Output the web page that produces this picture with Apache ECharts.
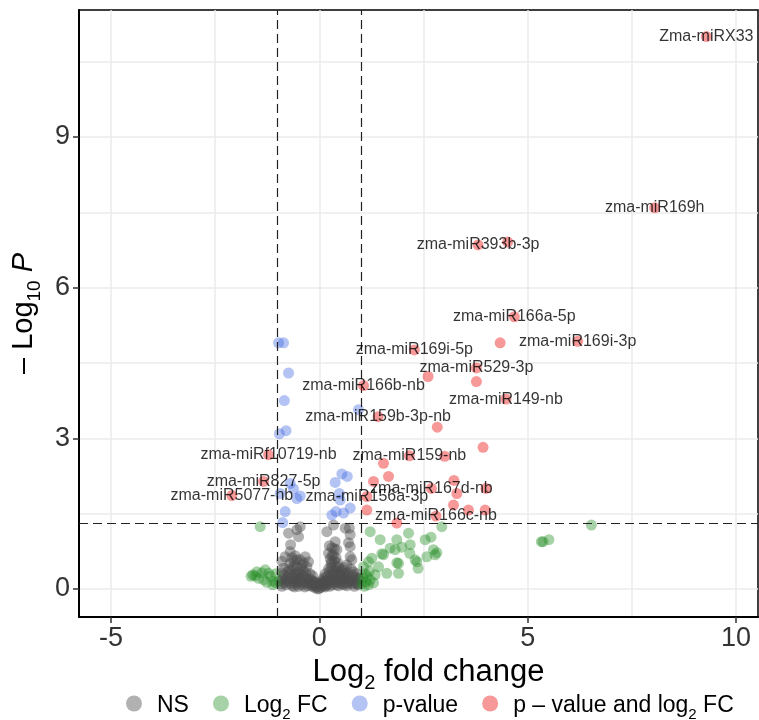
<!DOCTYPE html>
<html>
<head>
<meta charset="utf-8">
<script src="https://cdn.jsdelivr.net/npm/echarts@6/dist/echarts.min.js"></script>
<style>
	html, body { margin: 0; padding: 0; background: #fff; }
	#chart { width: 759px; height: 720px; }
</style>
</head>
<body>
<div id="chart"></div>
<script>
// not significant
var nsPoints = [
	[-0.92, 0.1], [-0.88, 0.2], [-0.9, 0.32], [-0.86, 0.41], [-0.9, 0.55], [-0.82, 0.64],
	[-0.8, 0.08], [-0.75, 0.15], [-0.72, 0.28], [-0.7, 0.74], [-0.69, 0.88], [-0.74, 1.11],
	[-0.7, 0.51], [-0.66, 0.38], [-0.65, 0.06], [-0.6, 0.2], [-0.58, 0.3], [-0.54, 0.58],
	[-0.55, 0.45], [-0.5, 1.04], [-0.54, 1.18], [-0.46, 1.24], [-0.5, 0.05], [-0.45, 0.15],
	[-0.42, 0.48], [-0.4, 0.28], [-0.38, 0.36], [-0.34, 0.64], [-0.35, 0.04], [-0.3, 0.2],
	[-0.26, 0.54], [-0.25, 0.1], [-0.22, 0.3], [-0.18, 0.05], [-0.15, 0.15], [-0.1, 0.02],
	[-0.08, 0.1], [-0.04, 0.0], [0, 0.01], [0.04, 0.03], [0.08, 0.06], [0.1, 0.15],
	[0.14, 0.04], [0.18, 0.25], [0.2, 0.1], [0.22, 0.4], [0.22, 0.71], [0.18, 1.14],
	[0.25, 0.05], [0.28, 0.18], [0.3, 0.54], [0.32, 0.3], [0.34, 0.68], [0.34, 1.27],
	[0.36, 0.12], [0.38, 0.94], [0.4, 0.45], [0.42, 0.78], [0.42, 0.22], [0.46, 0.44],
	[0.46, 0.06], [0.5, 0.3], [0.52, 0.16], [0.55, 0.38], [0.58, 0.08], [0.6, 0.24],
	[0.62, 1.21], [0.64, 0.12], [0.66, 0.48], [0.68, 0.32], [0.7, 0.92], [0.72, 0.18],
	[0.74, 0.64], [0.74, 0.84], [0.74, 1.08], [0.72, 1.21], [0.76, 0.4], [0.78, 0.58],
	[0.8, 0.1], [0.82, 0.34], [0.85, 0.22], [0.88, 0.12], [0.9, 0.3], [0.93, 0.08],
	[0.95, 0.2], [-0.95, 0.16], [-0.84, 0.12], [-0.78, 0.22], [-0.68, 0.1], [-0.62, 0.14],
	[-0.56, 0.1], [-0.48, 0.22], [-0.42, 0.08], [-0.32, 0.12], [-0.28, 0.06], [-0.2, 0.18],
	[-0.12, 0.08], [-0.06, 0.04], [0.02, 0.08], [0.06, 0.12], [0.12, 0.08], [0.16, 0.14],
	[0.26, 0.26], [0.3, 0.08], [0.38, 0.18], [0.44, 0.34], [0.48, 0.12], [0.56, 0.2],
	[0.62, 0.3], [0.66, 0.06], [0.7, 0.14], [0.84, 0.05], [0.26, 0.6], [0.3, 0.82],
	[0.36, 0.56], [0.4, 0.62], [0.28, 0.42], [-0.62, 0.44], [-0.46, 0.58], [-0.38, 0.52],
	[-0.52, 0.34], [-0.44, 0.4], [-0.6, 0.56], [0.34, 0.36], [0.44, 0.52], [-0.16, 0.26],
	[0.14, 0.3], [-0.72, 0.4], [0.6, 0.42], [-0.1, 0.14], [0.1, 0.22], [-0.58, 0.66],
	[-0.9, 0.05], [-0.86, 0.28], [-0.82, 0.18], [-0.76, 0.34], [-0.7, 0.2], [-0.64, 0.26],
	[-0.6, 0.04], [-0.56, 0.22], [-0.52, 0.14], [-0.48, 0.3], [-0.44, 0.2], [-0.4, 0.12],
	[-0.36, 0.24], [-0.32, 0.32], [-0.3, 0.44], [-0.24, 0.2], [-0.2, 0.1], [-0.14, 0.06],
	[-0.06, 0.12], [0.04, 0.1], [0.08, 0.18], [0.12, 0.14], [0.16, 0.06], [0.2, 0.18],
	[0.24, 0.12], [0.24, 0.34], [0.28, 0.5], [0.32, 0.2], [0.36, 0.28], [0.4, 0.08],
	[0.4, 0.36], [0.44, 0.14], [0.48, 0.24], [0.52, 0.36], [0.54, 0.1], [0.58, 0.3],
	[0.64, 0.2], [0.68, 0.1], [0.72, 0.26], [0.76, 0.16], [0.8, 0.28], [0.86, 0.16],
	[0.9, 0.1], [0.92, 0.22], [0.3, 0.66], [0.36, 0.8], [0.24, 0.86], [-0.66, 0.62]
];

// |log2FC| > 1 only
var fcPoints = [
	[-1.42, 1.24], [-1.6, 0.28], [-1.5, 0.34], [-1.3, 0.38], [-1.17, 0.25], [-1.34, 0.18],
	[-1.46, 0.21], [-1.1, 0.15], [-1.22, 0.31], [-1.54, 0.26], [-1.26, 0.13], [-1.64, 0.25],
	[-1.05, 0.3], [-1.12, 0.08], [-1.38, 0.32], [-1.04, 0.12],
	[1.02, 0.1], [1.05, 0.22], [1.08, 0.05], [1.1, 0.3], [1.06, 0.44], [1.14, 0.25],
	[1.12, 0.14], [1.18, 0.08], [1.2, 0.35], [1.22, 0.18], [1.26, 0.61], [1.3, 0.12],
	[1.34, 0.28], [1.42, 0.44], [1.18, 0.54], [1.22, 1.14], [1.46, 0.98], [1.5, 0.7],
	[1.54, 0.68], [1.62, 0.31], [1.7, 0.81], [1.82, 0.78], [1.86, 0.98], [1.86, 0.52],
	[1.9, 0.51], [1.9, 0.31], [1.98, 0.83], [2.14, 1.11], [2.18, 0.88], [2.17, 0.71],
	[2.3, 0.58], [2.34, 0.54], [2.37, 0.41], [2.54, 0.98], [2.58, 0.64], [2.68, 1.03],
	[2.74, 0.78], [2.78, 0.68], [2.82, 0.72], [2.94, 1.24],
	[5.33, 0.94], [5.37, 0.94], [5.51, 0.98], [6.53, 1.27]
];

// p < 0.05 only
var pPoints = [
	[-0.98, 4.9], [-0.86, 4.9], [-0.74, 4.3], [-0.84, 3.75], [-0.8, 3.15], [-0.96, 3.09],
	[0.94, 3.57], [0.54, 2.29], [0.67, 2.24], [0.38, 2.12], [-0.7, 2.1], [-0.62, 1.99],
	[-0.46, 1.85], [-0.94, 1.9], [0.48, 1.9], [0.5, 1.77], [-0.82, 1.54], [0.3, 1.47],
	[0.58, 1.51], [0.74, 1.61], [-0.54, 1.8], [-0.88, 1.32], [0.4, 1.54]
];

// p < 0.05 and |log2FC| > 1, labelled
var sigNames = [
	'Zma-miRX33', 'zma-miR169h', 'zma-miR393b-3p', 'zma-miR166a-5p', 'zma-miR169i-3p',
	'zma-miR169i-5p', 'zma-miR529-3p', 'zma-miR166b-nb', 'zma-miR159b-3p-nb', 'zma-miR149-nb',
	'zma-miRf10719-nb', 'zma-miR827-5p', 'zma-miR5077-nb', 'zma-miR159-nb', 'zma-miR167d-nb',
	'zma-miR156a-3p', 'zma-miR166c-nb'
];
var sigX = [9.29, 8.05, 3.81, 4.68, 6.2, 2.28, 3.77, 1.06, 1.41, 4.48, -1.22, -1.34, -2.1, 2.16, 2.69, 1.14, 2.8];
var sigY = [11.0, 7.59, 6.85, 5.42, 4.93, 4.76, 4.4, 4.05, 3.43, 3.78, 2.67, 2.14, 1.86, 2.65, 2.0, 1.84, 1.45];

// p < 0.05 and |log2FC| > 1, no label
var sigOther = [
	[4.52, 6.91], [4.34, 4.9], [3.77, 4.13], [2.61, 4.23], [2.83, 3.22], [3.01, 2.64],
	[1.54, 2.5], [3.93, 2.82], [3.23, 2.16], [3.3, 1.9], [4.0, 2.0], [3.22, 1.67],
	[3.58, 1.57], [3.98, 1.57], [1.66, 2.24], [1.14, 1.57], [1.3, 2.14], [1.86, 1.31]
];

var xTicks = [-5, 0, 5, 10];
var xGrid = [-5, -2.5, 0, 2.5, 5, 7.5, 10];
var yTicks = [0, 3, 6, 9];
var yGrid = [0, 1.5, 3, 4.5, 6, 7.5, 9, 10.5];

var FONT = '"Liberation Sans", Arial, Helvetica, sans-serif';
var X_MIN = -5.77, X_MAX = 10.53, Y_MIN = -0.56, Y_MAX = 11.53;

var redData = [];
sigNames.forEach(function(n, i) {
	redData.push({ name: n, value: [sigX[i], sigY[i]] });
});
sigOther.forEach(function(p) {
	redData.push({ name: '', value: p });
});

var subRich = {
	a: { fontSize: 23, fontFamily: FONT, color: '#000', lineHeight: 27, verticalAlign: 'bottom' },
	s: { fontSize: 15, fontFamily: FONT, color: '#000', lineHeight: 27, verticalAlign: 'bottom', padding: [0, 0, -5, 0] }
};

function legendName(name) {
	if (name === 'Log2 FC') return '{a|Log}{s|2}{a| FC}';
	if (name === 'p – value and log2 FC') return '{a|p – value and log}{s|2}{a| FC}';
	return '{a|' + name + '}';
}

var chart = echarts.init(document.getElementById('chart'));

function scatter(name, data, color, z) {
	return {
		name: name,
		type: 'scatter',
		data: data,
		symbolSize: 11,
		z: z,
		itemStyle: { color: color },
		emphasis: { disabled: true },
		silent: true
	};
}

var redSeries = scatter('p – value and log2 FC', redData, 'rgba(238,0,0,0.5)', 5);
redSeries.label = {
	show: true,
	position: 'inside',
	formatter: function(p) { return p.name; },
	color: '#000',
	fontSize: 16,
	fontFamily: FONT
};
redSeries.markLine = {
	silent: true,
	symbol: 'none',
	label: { show: false },
	lineStyle: { color: '#222', width: 1.2, type: [9, 5] },
	data: [{ xAxis: -1 }, { xAxis: 1 }, { yAxis: 1.301 }]
};

var option = {
	animation: false,
	backgroundColor: '#fff',
	grid: {
		left: 79, top: 10, right: 1, bottom: 103,
		show: true, borderColor: '#000', borderWidth: 1.5
	},
	xAxis: [
		{
			type: 'value', min: X_MIN, max: X_MAX, position: 'bottom',
			axisLine: { show: false },
			axisTick: { show: false, customValues: xGrid },
			axisLabel: { show: false, customValues: xGrid },
			splitLine: { show: true, lineStyle: { color: '#ebebeb', width: 1.5 } }
		},
		{
			type: 'value', min: X_MIN, max: X_MAX, position: 'bottom',
			axisLine: { show: true, onZero: false, lineStyle: { color: '#000', width: 2 } },
			axisTick: { show: true, length: 6, customValues: xTicks, lineStyle: { color: '#333', width: 1.5 } },
			axisLabel: { customValues: xTicks, color: '#333', fontSize: 27, fontFamily: FONT, margin: 8 },
			splitLine: { show: false },
			name: '{a|Log}{s|2}{a| fold change}',
			nameLocation: 'middle',
			nameGap: 35,
			nameTextStyle: {
				padding: [0, 0, 0, 20],
				rich: {
					a: { fontSize: 31, fontFamily: FONT, color: '#000', lineHeight: 34, verticalAlign: 'bottom' },
					s: { fontSize: 20, fontFamily: FONT, color: '#000', lineHeight: 34, verticalAlign: 'bottom', padding: [0, 0, -6, 0] }
				}
			}
		}
	],
	yAxis: [
		{
			type: 'value', min: Y_MIN, max: Y_MAX, position: 'left',
			axisLine: { show: false },
			axisTick: { show: false, customValues: yGrid },
			axisLabel: { show: false, customValues: yGrid },
			splitLine: { show: true, lineStyle: { color: '#ebebeb', width: 1.5 } }
		},
		{
			type: 'value', min: Y_MIN, max: Y_MAX, position: 'left',
			axisLine: { show: true, onZero: false, lineStyle: { color: '#000', width: 2 } },
			axisTick: { show: true, length: 6, customValues: yTicks, lineStyle: { color: '#333', width: 1.5 } },
			axisLabel: { customValues: yTicks, color: '#333', fontSize: 27, fontFamily: FONT, margin: 9 },
			splitLine: { show: false },
			name: '{a|– Log}{s|10}{i| P}',
			nameLocation: 'middle',
			nameGap: 37,
			nameTextStyle: {
				rich: {
					a: { fontSize: 29, fontFamily: FONT, color: '#000', lineHeight: 32, verticalAlign: 'bottom' },
					s: { fontSize: 19, fontFamily: FONT, color: '#000', lineHeight: 32, verticalAlign: 'bottom', padding: [0, 0, -6, 0] },
					i: { fontSize: 29, fontFamily: FONT, fontStyle: 'italic', color: '#000', lineHeight: 32, verticalAlign: 'bottom' }
				}
			}
		}
	],
	legend: {
		left: 121,
		top: 689,
		icon: 'circle',
		itemWidth: 16,
		itemHeight: 16,
		itemGap: 24,
		data: ['NS', 'Log2 FC', 'p-value', 'p – value and log2 FC'],
		formatter: legendName,
		textStyle: { padding: [0, 0, 0, 10], rich: subRich },
		selectedMode: false
	},
	series: [
		scatter('NS', nsPoints, 'rgba(77,77,77,0.55)', 2),
		scatter('Log2 FC', fcPoints, 'rgba(34,139,34,0.5)', 3),
		scatter('p-value', pPoints, 'rgba(65,105,225,0.5)', 4),
		redSeries
	]
};

chart.setOption(option);
</script>
</body>
</html>
